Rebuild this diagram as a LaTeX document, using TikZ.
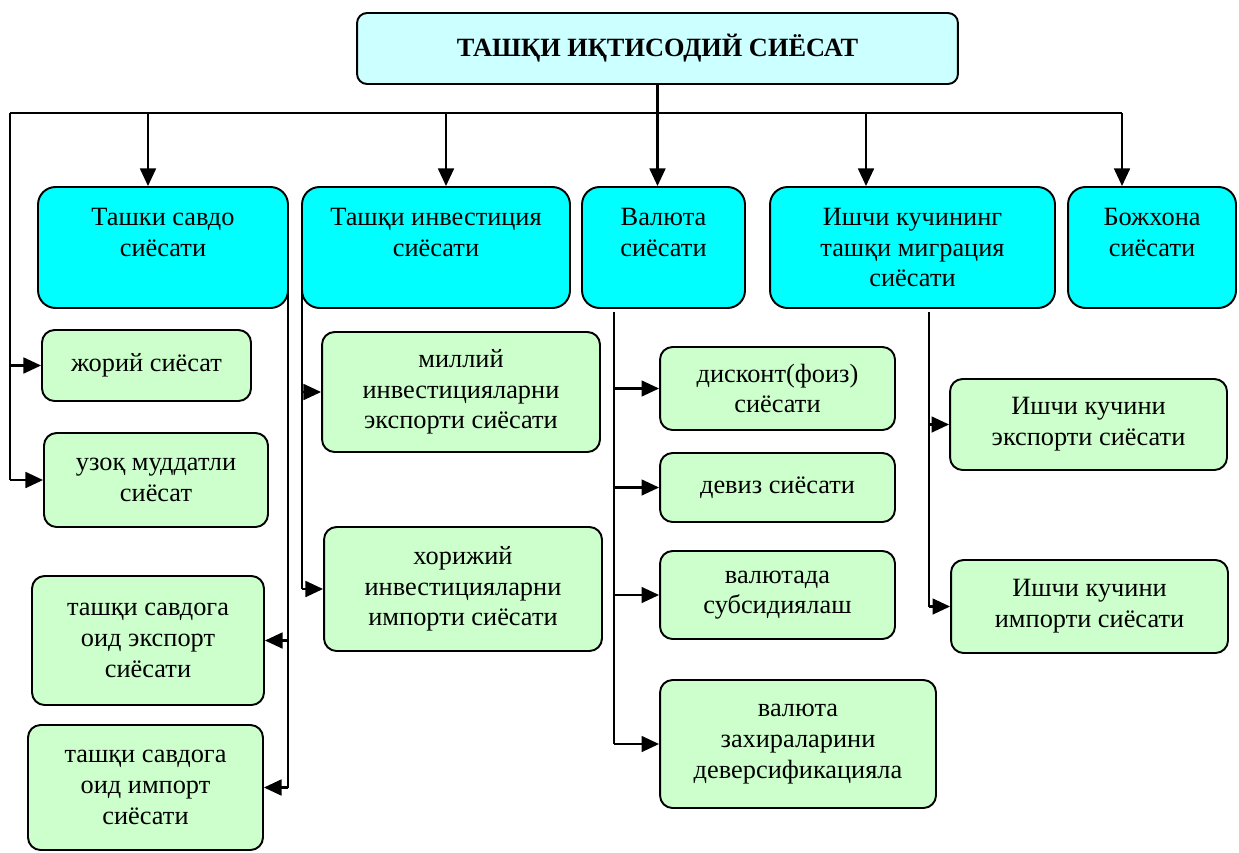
\documentclass[tikz,border=0pt]{standalone}
\usepackage{fontspec}
\setmainfont{Liberation Serif}
\usetikzlibrary{arrows.meta,positioning}
\definecolor{titlecyan}{HTML}{CCFFFF}
\definecolor{headcyan}{HTML}{00FFFF}
\definecolor{leafgreen}{HTML}{CCFFCC}
\tikzset{
  titlebox/.style  = {draw, line width=1.1pt, fill=titlecyan, rounded corners=0.2cm,
                      font=\bfseries\fontsize{15}{17.5}\selectfont},
  policybox/.style = {draw, line width=1.1pt, fill=headcyan, rounded corners=0.35cm,
                      align=center, font=\fontsize{15}{17.5}\selectfont},
  leafbox/.style   = {draw, line width=1.1pt, fill=leafgreen, rounded corners=0.25cm,
                      align=center, font=\fontsize{15}{17.5}\selectfont},
  trunk/.style     = {black, line width=1.3pt},
  branch/.style    = {trunk, -{Triangle[length=10pt,width=9pt]}},
}

\begin{document}
\begin{tikzpicture}[x=0.02cm,y=-0.02cm]
      \useasboundingbox (0,0) rectangle (1239,852);

      % top
      \node[titlebox, minimum width=12.02cm, minimum height=1.42cm] (title) at (657.5,48.5) {ТАШҚИ ИҚТИСОДИЙ СИЁСАТ};

      % policy groups
      \node[policybox, minimum width=5cm, minimum height=2.42cm] (trade) at (163,247.5) {Ташки савдо\\сиёсати\\\mbox{}};
      \node[policybox, minimum width=5.36cm, minimum height=2.42cm] (invest) at (436,247.5) {Ташқи инвестиция\\сиёсати\\\mbox{}};
      \node[policybox, minimum width=3.26cm, minimum height=2.42cm] (currency) at (663.5,247.5) {Валюта\\сиёсати\\\mbox{}};
      \node[policybox, minimum width=5.7cm, minimum height=2.42cm] (labour) at (912.5,247.5) {Ишчи кучининг\\ташқи миграция\\сиёсати};
      \node[policybox, minimum width=3.36cm, minimum height=2.42cm] (customs) at (1152,247.5) {Божхона\\сиёсати\\\mbox{}};

      % trade
      \node[leafbox, minimum width=4.18cm, minimum height=1.42cm] (current) at (146.5,365.5) {жорий сиёсат};
      \node[leafbox, minimum width=4.48cm, minimum height=1.88cm] (longterm) at (156,480) {узоқ муддатли\\сиёсат};
      \node[leafbox, minimum width=4.64cm, minimum height=2.58cm] (export) at (148,640.5) {ташқи савдога\\оид экспорт\\сиёсати};
      \node[leafbox, minimum width=4.7cm, minimum height=2.5cm] (import) at (145.5,787.5) {ташқи савдога\\оид импорт\\сиёсати};

      % investment
      \node[leafbox, minimum width=5.56cm, minimum height=2.4cm] (invout) at (461,392) {миллий\\инвестицияларни\\экспорти сиёсати};
      \node[leafbox, minimum width=5.56cm, minimum height=2.48cm] (invin) at (463,589) {хорижий\\инвестицияларни\\импорти сиёсати};

      % currency
      \node[leafbox, minimum width=4.7cm, minimum height=1.66cm] (discount) at (777.5,388.5) {дисконт(фоиз)\\сиёсати};
      \node[leafbox, minimum width=4.7cm, minimum height=1.38cm] (deviz) at (777.5,487.5) {девиз сиёсати};
      \node[leafbox, minimum width=4.7cm, minimum height=1.76cm] (subsidy) at (777.5,595) {валютада\\субсидиялаш};
      \node[leafbox, minimum width=5.52cm, minimum height=2.56cm] (reserve) at (798,744) {валюта\\захираларини\\деверсификацияла};

      % labour
      \node[leafbox, minimum width=5.54cm, minimum height=1.82cm] (labout) at (1088.5,424.5) {Ишчи кучини\\экспорти сиёсати};
      \node[leafbox, minimum width=5.54cm, minimum height=1.86cm] (labin) at (1089.5,606.5) {Ишчи кучини\\импорти сиёсати};

      % bus
      \coordinate (busL) at (10,113);
      \coordinate (busR) at (1122,113);
      \coordinate (tradeR) at (288,268);
      \coordinate (investL) at (302,260);
      \coordinate (currencyL) at (614,312);
      \coordinate (labourL) at (929,312);

      \draw[trunk] (busL) -- (busR);
      \draw[branch] (title.south) -- (title.south |- currency.north);
      \foreach \x/\n in {148/trade,446/invest,866/labour,1122/customs}
        \draw[branch] (\x,113) -- (\n.north -| \x,113);

      \draw[trunk] (busL) -- (busL |- longterm.west);
      \draw[branch] (busL |- current.west) -- (current.west);
      \draw[branch] (busL |- longterm.west) -- (longterm.west);

      \draw[trunk] (tradeR) -- (tradeR |- import.east);
      \draw[branch] (tradeR |- export.east) -- (export.east);
      \draw[branch] (tradeR |- import.east) -- (import.east);

      \draw[trunk] (investL) -- (investL |- invin.west);
      \draw[branch] (investL |- invout.west) -- (invout.west);
      \draw[branch] (investL |- invin.west) -- (invin.west);

      \draw[trunk] (currencyL) -- (currencyL |- reserve.west);
      \draw[branch] (currencyL |- discount.west) -- (discount.west);
      \draw[branch] (currencyL |- deviz.west) -- (deviz.west);
      \draw[branch] (currencyL |- subsidy.west) -- (subsidy.west);
      \draw[branch] (currencyL |- reserve.west) -- (reserve.west);

      \draw[trunk] (labourL) -- (labourL |- labin.west);
      \draw[branch] (labourL |- labout.west) -- (labout.west);
      \draw[branch] (labourL |- labin.west) -- (labin.west);
\end{tikzpicture}
\end{document}
